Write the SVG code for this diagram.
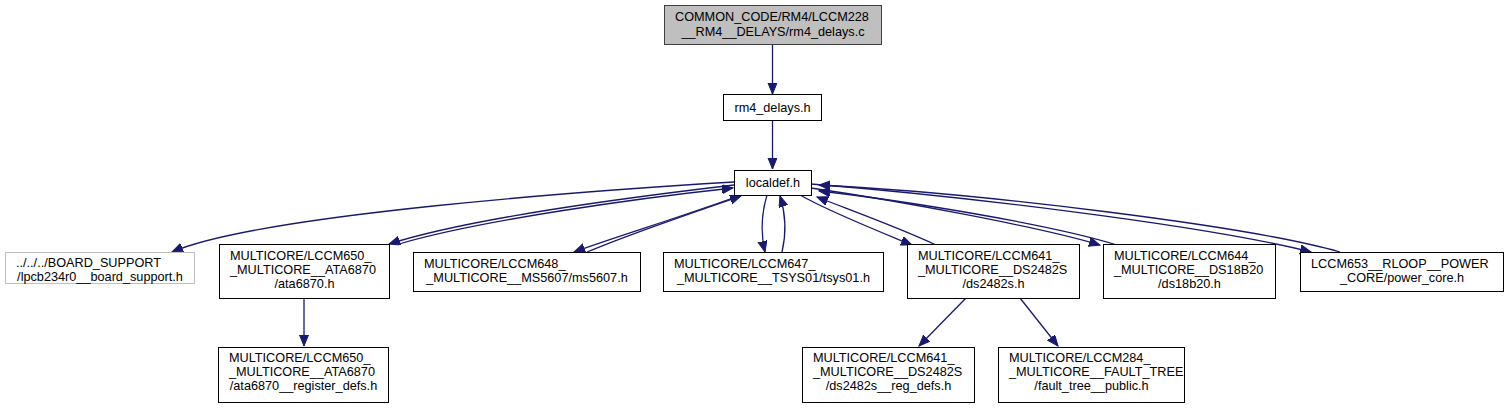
<svg xmlns="http://www.w3.org/2000/svg" width="1508" height="409" viewBox="0 0 1508 409">
<style>
.bg{fill:#ffffff}
.n rect{fill:#ffffff;stroke:#000000;stroke-width:1}
.n.root rect{fill:#bfbfbf;stroke:#404040}
.n.ext rect{stroke:#bfbfbf}
.n text{font-family:"Liberation Sans",Arial,sans-serif;font-size:12.7px;fill:#000000}
.l{text-anchor:start}
.m{text-anchor:middle}
.e path{fill:none;stroke:#191970;stroke-width:1.3;marker-end:url(#ah)}
</style>
<defs>
<marker id="ah" markerUnits="userSpaceOnUse" markerWidth="13" markerHeight="10" refX="11" refY="4.5" orient="auto">
<path d="M0,0 L11,4.5 L0,9 z" fill="#191970" stroke="#191970" stroke-width="1"/>
</marker>
</defs>
<rect class="bg" x="0" y="0" width="1508" height="409"/>
<g id="edges" class="e">
<path d="M772.5,45 L772.5,94"/>
<path d="M772.5,121 L772.5,169"/>
<path d="M734,182 C600,190 260,214 172,252"/>
<path d="M734,185 C640,196 470,218 389,244"/>
<path d="M399,244 C480,220 640,198 733,188"/>
<path d="M741,195 C690,214 612,238 574,252"/>
<path d="M587,252 C632,233 700,210 741,196"/>
<path d="M767,195 C761,215 761,235 765,252"/>
<path d="M782,252 C786,235 786,215 780,196"/>
<path d="M800,195 C830,212 878,231 912,245"/>
<path d="M936,245 C900,228 850,210 817,197"/>
<path d="M811,188 C900,201 1040,227 1100,245"/>
<path d="M1117,245 C1050,224 900,200 819,191"/>
<path d="M811,184 C950,195 1200,224 1311,252"/>
<path d="M1340,252 C1250,226 980,193 819,185"/>
<path d="M304,298 L304,346"/>
<path d="M966,298 L919,346"/>
<path d="M1020,298 L1058,346"/>
</g>
<g id="node_root" class="n root">
<rect x="664.5" y="5.5" width="217" height="39"/>
<text class="l" x="675" y="21">COMMON_CODE/RM4/LCCM228</text>
<text class="m" x="773" y="36">__RM4__DELAYS/rm4_delays.c</text>
</g>
<g id="node_rm4_delays_h" class="n">
<rect x="723.5" y="94.5" width="98" height="26"/>
<text class="m" x="772.5" y="112">rm4_delays.h</text>
</g>
<g id="node_localdef_h" class="n">
<rect x="734.5" y="170.5" width="77" height="25"/>
<text class="m" x="773" y="187">localdef.h</text>
</g>
<g id="node_board_support" class="n ext">
<rect x="5.5" y="252.5" width="189" height="31"/>
<text class="l" x="16" y="267">../../../BOARD_SUPPORT</text>
<text class="m" x="100" y="281">/lpcb234r0__board_support.h</text>
</g>
<g id="node_ata6870" class="n">
<rect x="219.5" y="244.5" width="170" height="54"/>
<text class="l" x="230" y="260">MULTICORE/LCCM650_</text>
<text class="l" x="230" y="274">_MULTICORE__ATA6870</text>
<text class="m" x="304.5" y="288">/ata6870.h</text>
</g>
<g id="node_ms5607" class="n">
<rect x="413.5" y="252.5" width="227" height="39"/>
<text class="l" x="424" y="268">MULTICORE/LCCM648_</text>
<text class="m" x="527" y="282">_MULTICORE__MS5607/ms5607.h</text>
</g>
<g id="node_tsys01" class="n">
<rect x="663.5" y="252.5" width="220" height="39"/>
<text class="l" x="674" y="268">MULTICORE/LCCM647_</text>
<text class="m" x="773.5" y="282">_MULTICORE__TSYS01/tsys01.h</text>
</g>
<g id="node_ds2482s" class="n">
<rect x="907.5" y="244.5" width="172" height="54"/>
<text class="l" x="918" y="260">MULTICORE/LCCM641_</text>
<text class="l" x="918" y="274">_MULTICORE__DS2482S</text>
<text class="m" x="993.5" y="288">/ds2482s.h</text>
</g>
<g id="node_ds18b20" class="n">
<rect x="1103.5" y="244.5" width="172" height="54"/>
<text class="l" x="1114" y="260">MULTICORE/LCCM644_</text>
<text class="l" x="1114" y="274">_MULTICORE__DS18B20</text>
<text class="m" x="1189.5" y="288">/ds18b20.h</text>
</g>
<g id="node_power_core" class="n">
<rect x="1300.5" y="252.5" width="203" height="39"/>
<text class="l" x="1311" y="268">LCCM653__RLOOP__POWER</text>
<text class="m" x="1402" y="282">_CORE/power_core.h</text>
</g>
<g id="node_ata6870_register_defs" class="n">
<rect x="218.5" y="347.5" width="170" height="55"/>
<text class="l" x="229" y="362">MULTICORE/LCCM650_</text>
<text class="l" x="229" y="376">_MULTICORE__ATA6870</text>
<text class="m" x="303.5" y="390">/ata6870__register_defs.h</text>
</g>
<g id="node_ds2482s_reg_defs" class="n">
<rect x="802.5" y="347.5" width="172" height="55"/>
<text class="l" x="813" y="362">MULTICORE/LCCM641_</text>
<text class="l" x="813" y="376">_MULTICORE__DS2482S</text>
<text class="m" x="888.5" y="390">/ds2482s__reg_defs.h</text>
</g>
<g id="node_fault_tree_public" class="n">
<rect x="998.5" y="347.5" width="186" height="55"/>
<text class="l" x="1009" y="362">MULTICORE/LCCM284_</text>
<text class="l" x="1009" y="376">_MULTICORE__FAULT_TREE</text>
<text class="m" x="1091.5" y="390">/fault_tree__public.h</text>
</g>
</svg>
